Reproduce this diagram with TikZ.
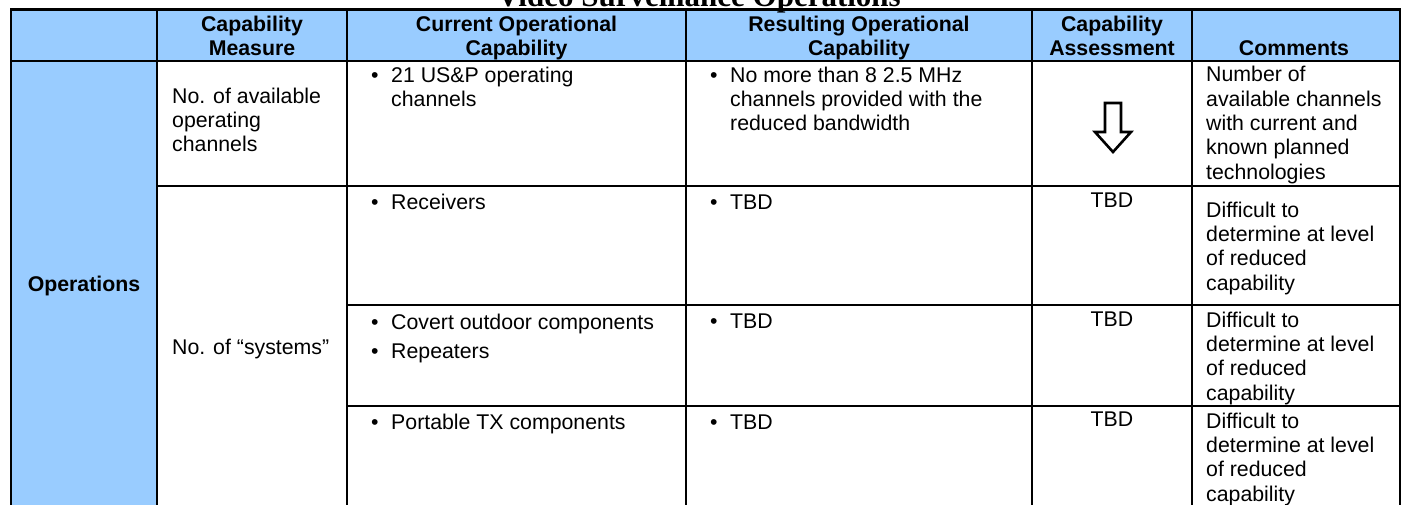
\documentclass[tikz,border=0pt]{standalone}
\usepackage{fontspec}
\setmainfont{Liberation Sans}
\newfontfamily\titlefont{Liberation Serif}

\definecolor{hdrblue}{HTML}{99CCFF}

\tikzset{
  tabline/.style={line width=2.6pt},
  txt/.style={inner sep=0pt, anchor=north west, align=left, font=\fontsize{21.3}{24.3}\selectfont},
  one/.style={inner sep=0pt, anchor=base west, font=\fontsize{21.3}{24.3}\selectfont},
  hdr/.style={inner sep=0pt, anchor=north, align=center, font=\bfseries\fontsize{21.3}{24}\selectfont},
}

\begin{document}
\begin{tikzpicture}[x=1pt,y=-1pt]
        \useasboundingbox (0,0) rectangle (1403,504);
        \clip (0,0) rectangle (1403,504);
        % blue header row and first column
        \fill[hdrblue] (11,9.5) rectangle (1400,61);
        \fill[hdrblue] (11,61) rectangle (157,507);
        % table rules
        \draw[tabline] (11,9.5) rectangle (1400,507);
        \draw[tabline] (11,61) -- (1400,61);
        \draw[tabline] (157,186) -- (1400,186);
        \draw[tabline] (347,305) -- (1400,305);
        \draw[tabline] (347,406) -- (1400,406);
        \foreach \x in {157,347,686,1032,1192}
            \draw[tabline] (\x,9.5) -- (\x,507);
        % title, cut by the top edge
        \node[inner sep=0pt, anchor=base, font=\titlefont\bfseries\fontsize{31}{31}\selectfont] (title) at (699,6) {Video Surveillance Operations};
        % header
        \node[hdr] (hmeasure) at (252,15.5) {Capability\\Measure};
        \node[hdr] (hcurrent) at (516.5,15.5) {Current Operational\\Capability};
        \node[hdr] (hresult) at (859,15.5) {Resulting Operational\\Capability};
        \node[hdr] (hassess) at (1112,15.5) {Capability\\Assessment};
        \node[hdr, anchor=base] (hcomment) at (1294,55) {Comments};
        \node[hdr, anchor=base] (ops) at (84,291) {Operations};
        % capability measure
        \node[txt] (meas1) at (172,87.6) {No. of available\\operating\\channels};
        \node[one] (meas2) at (172,354) {No. of “systems”};
        % first row
        \node[one] (cur1b) at (371,82) {\textbullet};
        \node[txt] (cur1) at (391,66.6) {21 US\&P operating\\channels};
        \node[one] (res1b) at (710,82) {\textbullet};
        \node[txt] (res1) at (730,66.6) {No more than 8 2.5 MHz\\channels provided with the\\reduced bandwidth};
        \draw[line width=2.6pt, fill=white] (1105,103) -- (1121,103) -- (1121,132) -- (1131,132) -- (1113,152) -- (1095,132) -- (1105,132) -- cycle;
        \node[txt] (com1) at (1206,66.3) {Number of\\available channels\\with current and\\known planned\\technologies};
        % current capability, lower rows
        \node[one] (cur2b) at (371,209) {\textbullet};
        \node[one] (cur2) at (391,209) {Receivers};
        \node[one] (cur3b) at (371,329) {\textbullet};
        \node[one] (cur3) at (391,329) {Covert outdoor components};
        \node[one] (cur3cb) at (371,358) {\textbullet};
        \node[one] (cur3c) at (391,358) {Repeaters};
        \node[one] (cur4b) at (371,429) {\textbullet};
        \node[one] (cur4) at (391,429) {Portable TX components};
        % TBD rows
        \foreach \y/\a/\c/\n in {209/207/201.6/2, 328/326/311.6/3, 429/426/412.6/4} {
            \node[one] (res\n b) at (710,\y) {\textbullet};
            \node[one] (res\n) at (730,\y) {TBD};
            \node[one, anchor=base] (ass\n) at (1112,\a) {TBD};
            \node[txt] (com\n) at (1206,\c) {Difficult to\\determine at level\\of reduced\\capability};
        }
    \end{tikzpicture}
\end{document}
